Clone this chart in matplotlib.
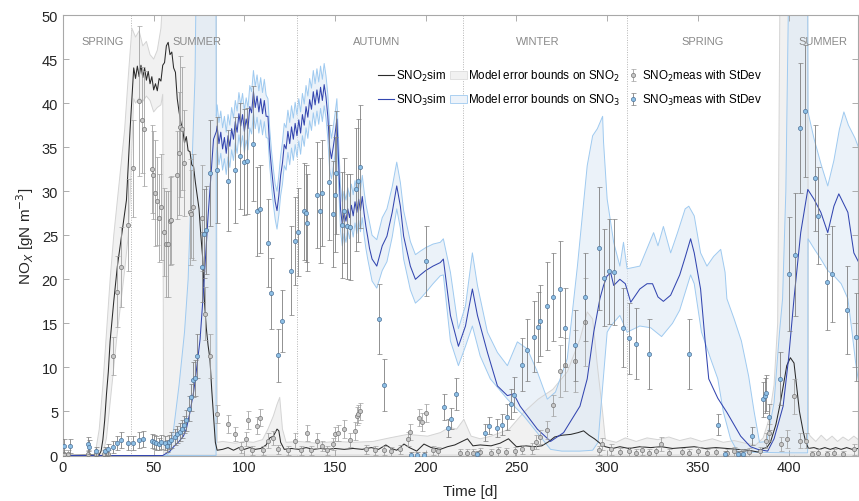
import matplotlib
matplotlib.use("Agg")
import matplotlib.pyplot as plt
from matplotlib.lines import Line2D
from matplotlib.patches import Patch

plt.rcParams['font.family'] = ['Liberation Sans', 'DejaVu Sans']

# ---- simulated SNO2 ----
t_sno2 = [0, 18, 20, 21, 22, 23, 24, 25, 26, 28, 30, 32, 34, 35, 36, 37,
          38, 39, 40, 41, 42, 43, 44, 45, 46, 47, 48, 49, 50, 51, 52, 53, 54, 55,
          56, 57, 58, 59, 60, 61, 62, 63, 64, 65, 66, 67, 68, 69, 70, 71, 72, 73,
          74, 75, 76, 77, 78, 79, 80, 81, 82, 83, 84, 85,
          88, 91, 94, 97, 100, 103, 106, 109, 112, 114, 116, 118, 119, 120, 122,
          126, 130, 134, 138, 142, 146, 150, 155, 160, 165, 170, 174, 178, 181,
          184, 188, 191, 195, 199, 203, 208, 212, 216, 220, 223, 226, 230, 236,
          241, 245.6, 250, 255, 260, 264, 268, 271, 275, 280, 284, 287, 290, 293,
          296, 299, 303, 307, 312, 318, 324, 330, 336, 342, 348, 354, 360, 366,
          372, 378, 383, 386, 388, 390, 393, 395, 397, 399, 401, 403, 404, 406,
          408, 409.5, 411, 414, 417, 420, 423, 426, 429, 432, 435, 438.5]
sno2_sim = [0, 0.05, 0.1, 0.5, 1.8, 4.0, 7.0, 9.5, 13.0, 17.5, 21.5, 24.5, 27.5, 29.0, 33.0, 37.0,
            40.5, 44.0, 42.8, 44.2, 43.0, 44.3, 42.9, 44.0, 42.6, 43.6, 42.2, 43.0, 41.5, 42.2, 41.4, 42.8, 42.5, 44.3,
            44.6, 46.5, 46.9, 45.5, 45.8, 44.0, 43.5, 40.5, 39.0, 37.8, 37.0, 35.5, 36.2, 34.6, 34.5, 33.0, 32.8, 31.0,
            29.5, 28.0, 25.0, 22.5, 17.5, 14.5, 12.5, 11.0, 7.5, 4.5, 1.5, 0.6,
            0.7, 0.9, 0.6, 0.9, 0.7, 0.9, 0.7, 0.8, 1.2, 2.0, 2.2, 3.0, 2.8, 1.5, 0.7,
            0.8, 0.7, 0.9, 0.7, 0.8, 0.7, 0.8, 0.7, 0.8, 0.7, 0.9, 0.7, 1.2, 0.8,
            0.6, 1.3, 0.9, 0.5, 1.3, 0.9, 0.7, 1.0, 1.2, 1.6, 1.9, 1.1, 1.2, 1.1,
            1.4, 1.9, 1.0, 1.1, 1.0, 1.1, 1.6, 2.1, 2.3, 2.4, 2.6, 2.8, 2.3, 1.9,
            1.4, 1.0, 0.8, 1.0, 0.8, 1.0, 0.9, 1.0, 0.8, 0.9, 1.0, 0.8, 0.9, 0.8,
            0.7, 0.6, 0.4, 0.8, 0.9, 1.5, 3.5, 5.5, 7.8, 10.2, 11.1, 10.5, 8.7, 5.0,
            2.8, 1.5, 0.8, 0.9, 0.7, 0.9, 0.7, 0.9, 0.7, 0.9, 0.7, 0.8]

# error bounds on SNO2
t_sno2_hi = [0, 17, 18, 20, 22, 24, 26, 28, 30, 32, 34, 36, 38, 40, 42, 44, 46, 48,
             50, 52, 54, 55, 55.5, 84.5, 85, 88, 95, 100, 105, 110, 113, 116, 118,
             119.5, 121, 123, 130, 140, 150, 160, 171, 180, 190, 201, 208, 213,
             217, 221, 225, 230, 236, 241, 246, 254, 262, 270, 278, 285, 289, 292,
             294.6, 297.5, 299, 305, 310, 316, 322, 328, 334, 340, 346, 352, 358,
             364, 370, 376, 382, 386, 389, 392, 394, 395.5, 410.5, 411, 412, 415,
             418, 421, 424, 427, 430, 433, 436, 438.5]
sno2_hi = [0.1, 0.1, 0.5, 3.0, 8.0, 14.0, 20.0, 25.0, 29.0, 33.0, 37.0, 43.0, 48.5, 47.5, 48.2, 46.5, 47.0, 45.5,
           45.0, 46.0, 48.5, 52.0, 60, 60, 1.5, 1.6, 1.4, 1.6, 1.5, 1.8, 3.0, 4.5, 5.8,
           6.6, 3.0, 1.5, 1.6, 1.4, 1.6, 1.5, 1.6, 2.0, 2.4, 2.2, 2.6, 3.2,
           3.0, 4.1, 2.2, 1.9, 2.2, 2.6, 3.0, 4.9, 6.4, 7.5, 9.5, 13.2, 16.3, 15.5,
           10.2, 4.9, 1.8, 1.5, 2.0, 1.6, 2.0, 1.8, 2.1, 1.7, 2.0, 1.6, 1.9,
           1.5, 1.7, 1.4, 1.2, 2.0, 4.0, 8.0, 15.0, 60, 60, 2.5, 2.2, 1.6,
           2.3, 1.7, 2.2, 1.6, 2.1, 1.7, 2.2, 1.8]
t_sno2_lo = [0, 21, 22, 24, 26, 28, 30, 32, 34, 36, 37, 38, 39, 40, 42, 44, 46, 48,
             50, 52, 54, 55, 55.5, 438.5]
sno2_lo = [0.05, 0.05, 0.1, 2.0, 6.0, 10.0, 14.0, 17.5, 21.0, 25.0, 29.0, 35.0, 40.5, 40.0, 40.6, 40.2, 40.8, 40.3,
           39.0, 39.5, 39.8, 41.0, 0.05, 0.05]

# ---- simulated SNO3 ----
t_sno3 = [0, 55, 59, 61, 64, 66.4, 68, 70, 72, 73, 75.6, 77.4, 80, 83, 84.6] + \
         list(range(85, 170)) + \
         [170.4, 173, 176, 178.6, 181.5, 184, 186, 187.8, 191.5, 194.3, 197, 200,
          204, 208, 209.7, 213.6, 218, 221.9, 225.7, 228.5, 234, 239.5, 245, 248.5,
          252, 261.5, 268.8, 276, 285, 289, 292.6, 296, 298, 300, 302, 303.6, 307,
          310, 313, 318, 322, 325, 328, 331, 335, 340, 343, 346, 348, 351.5, 354,
          356, 361, 366, 373.6, 379, 383, 388.5, 392, 397, 400, 403, 406.7, 410.6,
          414, 417.8, 421.6, 425, 427.7, 432.7, 436, 438.5]
sno3_sim = [0, 0, 0.5, 1.0, 1.6, 2.2, 3.0, 4.9, 7.2, 8.7, 13.2, 18.5, 27.2, 35.9, 36.8,
            # days 85-169
            37.4, 35.4, 36.7, 34.8, 36.1, 34.3, 36.3, 35.1, 37.1, 35.9,
            37.9, 36.7, 38.8, 37.4, 38.7, 36.8, 38.2, 37.1, 39.6, 38.9,
            41.3, 39.5, 40.8, 39.0, 40.5, 38.8, 40.3, 38.5, 38.5, 34.8,
            32.5, 30.5, 28.8, 27.8, 29.5, 31.8, 33.2, 35.3, 34.8, 36.8,
            35.4, 37.3, 35.9, 37.7, 36.3, 38.1, 36.6, 38.7, 37.5, 39.6,
            38.4, 40.4, 39.3, 41.3, 39.8, 41.5, 40.0, 41.8, 40.3, 42.1,
            40.7, 38.5, 35.0, 33.7, 35.0, 36.5, 38.2, 33.0, 28.0, 26.2,
            27.6, 26.6, 28.0, 27.0, 28.4, 27.2, 28.8, 27.6, 29.1, 27.8,
            29.4, 27.5, 26.0, 24.8, 23.5,
            22.3, 21.5, 23.8, 24.9, 27.6, 30.6, 28.3, 24.9, 21.5, 20.0, 20.5, 21.0,
            21.5, 21.9, 22.3, 15.9, 12.4, 14.7, 18.9, 15.9, 11.7, 7.9, 6.8, 7.0,
            5.6, 3.0, 1.6, 2.6, 5.6, 8.7, 14.0, 17.8, 19.3, 20.4, 20.7, 19.3, 20.0,
            19.5, 17.4, 18.9, 19.5, 19.5, 18.0, 17.5, 18.2, 20.5, 22.5, 24.6, 23.0, 18.9, 13.0,
            8.7, 6.5, 4.9, 2.2, 1.0, 0.7, 0.5, 1.9, 5.6, 11.0, 17.8, 25.3, 30.2,
            29.1, 27.6, 25.3, 28.3, 29.7, 27.6, 23.0, 22.0]

# error bounds on SNO3
t_sno3_hi = [0, 57, 59, 61, 64, 67, 69, 71, 72.8, 73.8, 84.3, 84.5] + \
            list(range(85, 169)) + \
            [170.4, 173, 176, 178.6, 181.5, 184, 186, 187.8, 191.5, 194.3, 197,
             200, 204, 208, 209.7, 213.6, 218, 221.9, 225.7, 228.5, 234, 239.5,
             245, 250.5, 256, 261.5, 267, 271.5, 278, 283.6, 289, 292, 294.6,
             297.5, 298, 300, 303.6, 307, 309, 311, 318, 325.6, 328, 331, 335,
             338.8, 343, 345, 348, 351.5, 355, 358.7, 362.6, 365, 366, 370, 374,
             378, 381, 384, 388, 392, 395, 396.7, 398.5, 400.5, 410.5, 410.7,
             414, 418, 421.6, 425, 428, 430.5, 433, 436.7, 438.5]
sno3_hi = [0, 0, 0.4, 3.0, 8.0, 14.0, 20.0, 32.0, 43.0, 60, 60, 38.5,
           # days 85-168
           39.8, 37.8, 39.1, 37.2, 38.5, 36.7, 38.7, 37.5, 39.5, 38.3,
           40.3, 39.1, 41.2, 39.8, 41.1, 39.2, 40.6, 39.5, 42.0, 41.3,
           43.7, 41.9, 43.2, 41.4, 42.9, 41.2, 42.7, 40.9, 40.5, 37.0,
           34.5, 32.5, 30.8, 30.0, 31.8, 34.0, 35.6, 37.7, 37.2, 39.2,
           37.8, 39.7, 38.3, 40.1, 38.7, 40.5, 39.0, 41.1, 39.9, 42.0,
           40.8, 42.8, 41.7, 43.7, 42.2, 43.9, 42.4, 44.2, 42.7, 44.5,
           43.1, 41.0, 37.5, 36.0, 37.3, 38.8, 40.5, 35.5, 30.5, 28.8,
           30.0, 29.0, 30.4, 29.4, 30.8, 29.6, 31.2, 30.0, 31.5, 30.2,
           31.8, 30.0, 28.5, 27.5,
           25.0, 24.5, 27.0, 28.0, 30.5, 33.3, 31.0, 27.8, 24.3, 22.8, 23.2,
           23.6, 24.0, 24.2, 24.6, 20.8, 14.4, 17.0, 23.0, 19.3, 14.0, 11.7,
           10.2, 12.9, 12.1, 9.5, 6.4, 7.2, 11.0, 21.5, 32.9, 36.3, 37.1,
           38.5, 35.6, 29.1, 24.2, 21.5, 24.2, 21.2, 21.5, 25.3, 23.8, 26.0, 23.0,
           25.3, 28.0, 28.3, 27.2, 23.0, 21.5, 22.6, 23.4, 20.8, 17.8, 15.5, 13.0,
           9.0, 5.0, 1.5, 1.6, 6.0, 14.0, 17.8, 30.0, 60, 60, 39.0,
           36.0, 33.0, 30.6, 33.5, 37.0, 39.0, 37.5, 36.0, 35.0]
t_sno3_lo = [0, 84.4, 84.5] + \
            list(range(85, 169)) + \
            [170.4, 173, 176, 178.6, 181.5, 184, 186, 187.8, 191.5, 194.3, 197,
             200, 204, 208, 209.7, 213.6, 218, 221.9, 225.7, 230, 235.6, 245,
             254, 263, 268.8, 275, 285, 292, 295, 296, 300, 302, 307, 311, 318,
             324, 330, 336, 340, 343, 346, 348, 352, 357, 361, 364, 368, 372,
             400, 410.5, 410.7, 414, 417.8, 421.6, 425, 429, 432.7, 435, 437, 438.5]
sno3_lo = [0, 0, 34.2,
           # days 85-168
           35.0, 33.0, 34.3, 32.4, 33.7, 31.9, 33.9, 32.7, 34.7, 33.5,
           35.5, 34.3, 36.4, 35.0, 36.3, 34.4, 35.8, 34.7, 37.2, 36.5,
           38.9, 37.1, 38.4, 36.6, 38.1, 36.4, 37.9, 36.1, 36.0, 32.8,
           30.5, 28.5, 26.8, 25.7, 27.3, 29.5, 30.8, 32.9, 32.4, 34.4,
           33.0, 34.9, 33.5, 35.3, 33.9, 35.7, 34.2, 36.3, 35.1, 37.2,
           36.0, 38.0, 36.9, 38.9, 37.4, 39.1, 37.6, 39.4, 37.9, 39.7,
           38.3, 36.0, 32.5, 31.4, 32.7, 34.2, 36.0, 30.5, 25.5, 23.8,
           25.2, 24.2, 25.6, 24.6, 26.0, 24.8, 26.4, 25.2, 26.7, 25.4,
           27.0, 25.0, 23.5, 22.3,
           19.8, 19.0, 21.0, 22.0, 24.8, 28.0, 25.8, 22.3, 18.8, 17.3, 17.8,
           18.5, 19.5, 20.4, 20.5, 13.0, 10.2, 12.4, 14.7, 11.3, 8.7, 6.4,
           4.5, 2.2, 0.7, 0.5, 0.5, 0.6, 1.5, 4.1, 14.0, 14.7, 15.9, 14.0, 14.7,
           14.5, 13.5, 15.0, 16.5, 18.5, 20.5, 19.5, 14.0, 11.0, 8.7, 5.0, 1.9, 0.4,
           0.3, 0.3, 24.6, 23.5, 22.3, 21.0, 20.4, 19.5, 17.8, 14.0, 10.5, 8.5]

# ---- measurements (day, value, standard deviation) ----
t_meas2 = [0.8, 2.8, 13.8, 18.2, 22.8, 24.8, 27.8, 30.0, 31.8, 35.9, 38.6, 41.9, 43.8,
           44.5, 48.9, 49.8, 50.6, 51.7, 53.0, 54.1, 55.9, 57.0, 58.0, 58.9, 59.8,
           62.7, 63.8, 64.4, 65.5, 66.8, 69.9, 70.8, 71.9, 76.9, 78.4, 81.1, 84.8,
           90.9, 95.0, 98.2, 101.0, 101.9, 104.0, 106.9, 108.7, 110.5, 113.3, 116.0,
           118.8, 124.0, 128.0, 131.0, 134.8, 137.0, 140.0, 142.8, 145.5, 149.0,
           150.0, 151.4, 154.7, 158.0, 161.0, 162.0, 162.6, 163.9, 167.0, 172.0,
           177.0, 181.0, 186.0, 190.0, 191.5, 196.0, 198.0, 200.0, 204.0, 207.0,
           219.0, 223.0, 226.0, 230.0, 236.0, 240.0, 244.0, 249.0, 253.0, 258.7,
           260.5, 262.9, 267.0, 270.3, 274.0, 277.0, 282.0, 288.0, 295.4, 297.3,
           302.0, 307.0, 312.0, 316.0, 319.0, 323.0, 327.0, 329.5, 334.0, 341.0,
           345.0, 350.0, 355.0, 360.0, 366.0, 370.0, 374.0, 378.0, 384.0, 387.4,
           389.2, 395.7, 399.3, 403.2, 406.2, 409.5, 413.0, 416.0, 421.0, 425.0,
           430.0, 436.0]
v_meas2 = [0.2, 0.2, 0.2, 0.2, 0.2, 0.2, 11.3, 18.6, 21.4, 26.2, 32.6, 40.2, 38.1,
           37.1, 32.5, 31.8, 29.8, 28.9, 27.0, 28.2, 25.4, 24.0, 24.0, 26.6, 26.7,
           31.8, 34.3, 37.3, 37.1, 33.2, 27.6, 27.4, 28.2, 27.0, 16.1, 11.3, 4.7,
           3.6, 2.4, 0.9, 1.9, 4.0, 0.6, 3.4, 4.3, 0.6, 1.7, 2.0,
           0.7, 0.6, 1.7, 0.6, 2.6, 0.6, 1.7, 1.1, 0.6, 1.3,
           2.4, 2.6, 3.0, 1.8, 2.8, 4.5, 4.7, 5.0, 0.7, 0.6,
           0.6, 0.5, 0.7, 1.9, 2.7, 4.3, 3.8, 4.8, 0.6, 0.5,
           0.3, 0.3, 0.3, 0.4, 0.3, 0.5, 0.4, 0.5, 0.7, 0.8,
           1.5, 2.1, 2.9, 5.7, 9.6, 10.3, 10.7, 15.2, 0.6, 1.3,
           0.7, 0.4, 0.5, 0.3, 0.6, 0.3, 0.5, 1.3, 0.3, 0.4,
           0.3, 0.5, 0.3, 0.4, 0.3, 0.5, 0.3, 0.4, 0.5, 1.7,
           2.6, 1.3, 1.9, 6.7, 1.7, 1.7, 0.2, 0.3, 0.2, 0.3,
           0.2, 0.7]
e_meas2 = [0.4, 0.4, 0.4, 0.4, 0.4, 0.4, 2.2, 4.0, 4.5, 5.2, 5.5, 8.5, 6.0,
           6.5, 5.0, 5.0, 6.0, 5.0, 5.0, 6.0, 5.0, 6.0, 6.0, 5.0, 5.0,
           5.0, 7.0, 8.0, 7.0, 6.0, 6.0, 5.0, 6.0, 6.0, 3.0, 2.5, 1.0,
           1.0, 0.8, 0.6, 0.8, 1.0, 0.5, 1.0, 1.0, 0.5, 0.8, 0.8,
           0.5, 0.5, 0.8, 0.5, 0.9, 0.5, 0.8, 0.6, 0.5, 0.7,
           0.8, 0.9, 1.0, 0.8, 1.0, 1.0, 1.0, 1.0, 0.5, 0.5,
           0.5, 0.5, 0.5, 0.8, 0.9, 1.0, 1.0, 1.0, 0.5, 0.5,
           0.4, 0.4, 0.4, 0.4, 0.4, 0.5, 0.4, 0.5, 0.5, 0.6,
           0.8, 0.8, 1.0, 1.2, 3.0, 3.0, 3.5, 5.0, 0.5, 0.7,
           0.6, 0.4, 0.5, 0.4, 0.5, 0.4, 0.5, 0.8, 0.4, 0.4,
           0.4, 0.5, 0.4, 0.4, 0.4, 0.5, 0.4, 0.4, 0.5, 0.8,
           1.0, 0.8, 1.0, 2.0, 0.8, 0.8, 0.3, 0.4, 0.3, 0.4,
           0.3, 0.6]

t_meas3 = [0.6, 3.9, 13.6, 14.5, 18.0, 23.0, 25.0, 27.8, 30.0, 31.8, 35.9, 38.6, 41.9,
           44.3, 49.0, 50.0, 51.5, 53.0, 54.0, 56.0, 57.5, 58.5, 59.5, 62.0, 63.0,
           64.5, 65.5, 66.5, 67.7, 69.7, 70.8, 71.6, 72.8, 73.8, 76.7, 77.8, 79.1,
           80.9, 85.0, 90.9, 94.7, 97.8, 100.0, 101.5, 104.7, 106.9, 108.7, 113.0,
           114.6, 118.8, 120.9, 125.8, 128.0, 129.7, 132.8, 133.9, 134.8, 139.8,
           141.6, 143.0, 146.8, 148.8, 150.0, 150.7, 154.0, 154.7, 156.6, 158.0,
           161.7, 162.8, 163.9, 174.0, 176.8, 192.0, 195.0, 199.0, 200.0, 210.3,
           212.0, 214.0, 216.7, 228.0, 232.9, 235.0, 239.0, 242.0, 245.0, 247.0,
           248.9, 253.0, 256.0, 259.9, 262.0, 263.0, 267.0, 270.0, 274.0, 277.0,
           282.0, 288.0, 295.3, 298.0, 301.0, 304.0, 309.0, 312.0, 316.0, 323.0,
           345.0, 361.0, 365.0, 372.0, 375.0, 380.0, 386.0, 386.8, 387.8, 389.2,
           395.3, 400.3, 403.3, 406.4, 409.3, 414.3, 416.3, 421.3, 424.2, 432.0,
           437.0]
v_meas3 = [1.1, 1.1, 1.3, 1.0, 0.5, 0.5, 0.7, 1.0, 1.4, 1.8, 1.4, 1.4, 1.8,
           1.9, 1.6, 1.5, 1.4, 1.3, 1.5, 1.4, 1.1, 1.5, 1.8, 2.1, 2.4,
           2.7, 3.0, 3.5, 4.0, 5.3, 6.6, 8.6, 8.8, 11.3, 21.4, 25.2, 25.6,
           32.1, 32.4, 31.2, 32.4, 34.0, 33.3, 33.4, 35.4, 27.7, 28.0, 24.1,
           18.4, 11.4, 15.3, 21.0, 24.3, 25.4, 27.7, 27.5, 26.4, 29.6,
           27.8, 29.8, 31.0, 27.4, 29.6, 32.1, 26.2, 27.8, 26.0, 25.9,
           30.2, 31.2, 32.8, 15.5, 8.0, 0.1, 0.1, 0.1, 22.1, 5.5,
           3.1, 4.2, 7.0, 0.2, 2.6, 3.4, 3.1, 3.5, 4.4, 5.8,
           6.9, 10.3, 12.0, 13.5, 14.6, 15.3, 17.0, 18.0, 18.9, 14.5,
           12.5, 18.0, 23.5, 20.2, 20.9, 20.8, 14.5, 13.3, 12.7, 11.5,
           11.5, 3.5, 0.2, 0.2, 0.2, 2.2, 6.4, 6.8, 7.1, 4.4,
           8.7, 20.6, 22.8, 37.2, 39.1, 31.5, 27.2, 19.7, 20.6, 16.5,
           13.5]
e_meas3 = [0.8, 0.8, 0.8, 0.8, 0.5, 0.5, 0.6, 0.7, 0.8, 0.9, 0.8, 0.8, 0.9,
           0.9, 0.8, 0.8, 0.8, 0.7, 0.8, 0.8, 0.7, 0.8, 0.9, 0.9, 1.0,
           1.0, 1.0, 1.0, 1.2, 1.4, 1.5, 2.0, 2.0, 2.5, 4.0, 5.0, 5.0,
           6.0, 6.0, 5.7, 6.0, 6.0, 6.0, 6.0, 6.5, 5.0, 5.0, 5.0,
           4.0, 3.0, 3.5, 5.0, 5.0, 5.0, 5.5, 5.5, 5.5, 6.0,
           6.0, 6.0, 6.5, 6.0, 6.5, 7.0, 6.0, 6.0, 6.0, 6.0,
           7.0, 7.0, 7.0, 4.0, 3.0, 0.3, 0.3, 0.3, 4.0, 1.5,
           1.0, 1.2, 1.8, 0.3, 1.0, 1.0, 1.0, 1.2, 1.5, 1.7,
           2.0, 3.0, 3.5, 4.0, 4.0, 4.0, 5.0, 5.0, 5.5, 4.5,
           4.0, 5.0, 7.0, 5.5, 6.0, 6.0, 4.5, 4.0, 4.0, 4.0,
           4.0, 1.2, 0.3, 0.3, 0.3, 1.0, 2.0, 2.0, 2.0, 1.5,
           3.0, 6.5, 7.0, 7.4, 7.5, 6.0, 5.5, 5.5, 5.5, 5.0,
           5.0]

season_edges = [37.5, 129, 220.5, 311, 403]
season_names = ['SPRING', 'SUMMER', 'AUTUMN', 'WINTER', 'SPRING', 'SUMMER']
season_label_x = [22, 74, 173, 262, 352.5, 419]

fig = plt.figure(figsize=(8.59, 5.02), dpi=100)
ax = fig.add_axes([0.0733, 0.0906, 0.926, 0.8775])

# error bound patches
c2_fill, c2_edge = '#f1f1f1', '#d4d4d4'
c3_fill, c3_edge = '#dce8f5', '#9fcaf0'
ax.fill(t_sno2_hi + t_sno2_lo[::-1], sno2_hi + sno2_lo[::-1],
        facecolor=c2_fill, edgecolor='none', zorder=1)
ax.fill(t_sno3_hi + t_sno3_lo[::-1], sno3_hi + sno3_lo[::-1],
        facecolor=c3_fill, edgecolor='none', alpha=0.55, zorder=1.2)
ax.plot(t_sno2_hi, sno2_hi, color=c2_edge, lw=0.7, zorder=1.5)
ax.plot(t_sno2_lo, sno2_lo, color=c2_edge, lw=0.7, zorder=1.5)
ax.plot(t_sno3_hi, sno3_hi, color=c3_edge, lw=0.7, zorder=1.6)
ax.plot(t_sno3_lo, sno3_lo, color=c3_edge, lw=0.7, zorder=1.6)

# seasons
for x in season_edges:
    ax.axvline(x, color='#b5b5b5', ls=(0, (1, 1.5)), lw=0.7, zorder=0.5)
for name, x in zip(season_names, season_label_x):
    ax.text(x, 47.1, name, ha='center', va='center', fontsize=8, color='#8a8a8a')

# simulations
c2_line, c3_line = '#2b2b2b', '#3346b0'
ax.plot(t_sno2, sno2_sim, color=c2_line, lw=0.75, zorder=3)
ax.plot(t_sno3, sno3_sim, color=c3_line, lw=0.75, zorder=3)

# measurements with standard deviation
eb2 = ax.errorbar(t_meas2, v_meas2, yerr=e_meas2, fmt='o', ms=3.0, mfc='#c8c8c8',
                  mec='#767676', mew=0.5, ecolor='#a2a2a2', elinewidth=0.6,
                  capsize=1.8, capthick=0.5, zorder=4)
eb3 = ax.errorbar(t_meas3, v_meas3, yerr=e_meas3, fmt='o', ms=3.0, mfc='#8ec0e6',
                  mec='#4f7399', mew=0.5, ecolor='#7e7e7e', elinewidth=0.6,
                  capsize=1.8, capthick=0.5, zorder=4.5)

ax.set_xlim(0, 438.5)
ax.set_ylim(0, 50)
ax.set_xticks(range(0, 401, 50))
ax.set_yticks(range(0, 51, 5))
ax.tick_params(direction='in', top=True, right=True, length=4, width=0.6,
               color='#a0a0a0', labelsize=10.5, labelcolor='#262626')
for s in ax.spines.values():
    s.set_color('#a8a8a8')
    s.set_linewidth(0.8)
ax.set_xlabel('Time [d]', fontsize=11, color='#262626')
ax.xaxis.set_label_coords(0.512, -0.064)
ax.set_ylabel('NO$_X$ [gN m$^{-3}$]', fontsize=11, color='#262626', labelpad=4)

handles = [
    Line2D([], [], color=c2_line, lw=0.8),
    Line2D([], [], color=c3_line, lw=0.8),
    Patch(facecolor=c2_fill, edgecolor='#dcdcdc', lw=0.6),
    Patch(facecolor='#edf3fa', edgecolor=c3_edge, lw=0.6),
    eb2, eb3,
]
labels = ['SNO$_2$sim', 'SNO$_3$sim',
          'Model error bounds on SNO$_2$', 'Model error bounds on SNO$_3$',
          'SNO$_2$meas with StDev', 'SNO$_3$meas with StDev']
ax.legend(handles, labels, ncol=3, frameon=False, fontsize=8.4,
          loc='upper left', bbox_to_anchor=(0.44, 0.862),
          bbox_transform=fig.transFigure, borderpad=0, borderaxespad=0,
          handlelength=1.4, handletextpad=0.15, columnspacing=0.35,
          labelspacing=0.75)

fig.savefig('out.png', dpi=100)
